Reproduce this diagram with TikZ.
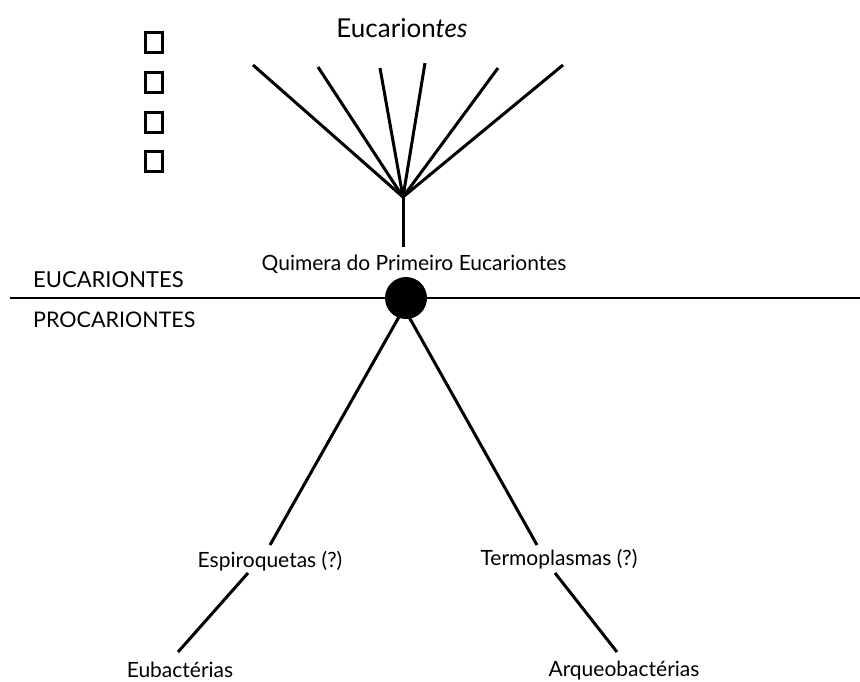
\documentclass[tikz,border=0pt]{standalone}
\usepackage{fontspec}
\setmainfont{Lato}
\begin{document}
\begin{tikzpicture}[x=1pt,y=-1pt,
  branch/.style={line width=3pt},
  lbl/.style={inner sep=0pt, font=\fontsize{21}{24}\selectfont},
  caps/.style={inner sep=0pt, anchor=west, font=\fontsize{22}{25}\selectfont},
  sq/.style={draw, line width=3pt, minimum width=17pt, minimum height=20pt, inner sep=0pt},
  ]
\useasboundingbox (0,0) rectangle (860,681);
% squares
\node[sq] (s1) at (154,42) {};
\node[sq] (s2) at (154,82) {};
\node[sq] (s3) at (154,122) {};
\node[sq] (s4) at (154,161) {};
% top label
\node[lbl, font=\fontsize{26}{30}\selectfont] (euc) at (402,28) {Eucarion\textit{tes}};
% fan
\coordinate (apex) at (403,197);
\coordinate (t1) at (253,65);
\coordinate (t2) at (318,67);
\coordinate (t3) at (380,68);
\coordinate (t4) at (425,63);
\coordinate (t5) at (498,68);
\coordinate (t6) at (563,65);
\coordinate (stem) at (403,247);
\foreach \t in {t1,t2,t3,t4,t5,t6} \draw[branch] (apex) -- (\t);
\draw[branch] (apex) -- (stem);
\node[lbl] (quim) at (414,264) {Quimera do Primeiro Eucariontes};
% divider
\node[caps] (eu) at (33,280) {EUCARIONTES};
\node[caps, font=\fontsize{21.5}{25}\selectfont] (pro) at (33,320) {PROCARIONTES};
\coordinate (hl) at (10,298);
\coordinate (hr) at (860,298);
\draw[line width=2pt] (hl) -- (hr);
% lower tree
\coordinate (root) at (404,308);
\coordinate (e1) at (270,545);
\coordinate (m1) at (537,545);
\draw[branch] (root) -- (e1);
\draw[branch] (root) -- (m1);
\node[circle, fill=black, minimum size=42pt, inner sep=0pt] (dot) at (406,298) {};
\node[lbl] (esp) at (270,561) {Espiroquetas (?)};
\node[lbl] (ter) at (559,559) {Termoplasmas (?)};
\coordinate (e2) at (248,573);
\coordinate (e3) at (178,652);
\coordinate (m2) at (555,573);
\coordinate (m3) at (617,652);
\draw[branch] (e2) -- (e3);
\draw[branch] (m2) -- (m3);
\node[lbl] (eub) at (180,670) {Eubactérias};
\node[lbl] (arq) at (624,671) {Arqueobactérias};
\end{tikzpicture}
\end{document}
